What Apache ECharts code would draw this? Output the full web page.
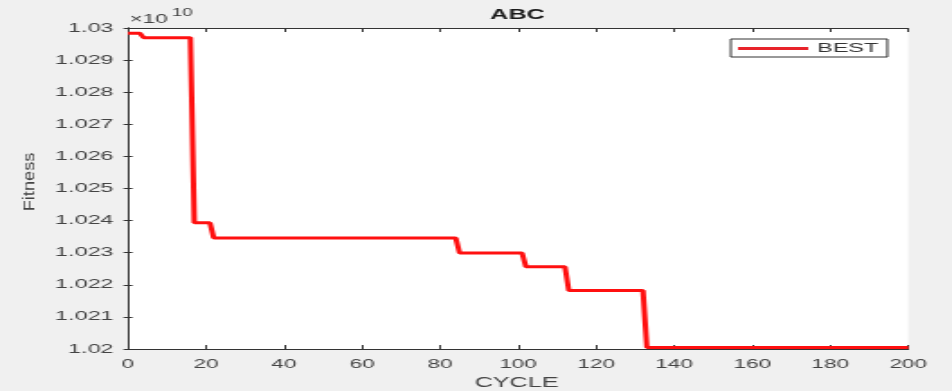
<!DOCTYPE html>
<html>
<head>
<meta charset="utf-8">
<script src="https://cdn.jsdelivr.net/npm/echarts@6/dist/echarts.min.js"></script>
<style>
  html, body { margin: 0; padding: 0; background: #f0f0f0; overflow: hidden; }
  /* the reference figure is stretched sideways, so draw narrow and scale */
  #chart { width: 529px; height: 391px; transform: scaleX(1.8); transform-origin: 0 0; }
</style>
</head>
<body>
<div id="chart"></div>
<script>
// breakpoints of the BEST curve (cycle, fitness / 1e10)
const cycles = [0, 3, 4, 16, 17, 21, 22, 84, 85, 101, 102, 112, 113, 132, 133, 200];
const best = [1.02984, 1.02984, 1.0297, 1.0297, 1.02393, 1.02393, 1.02346, 1.02346,
  1.02299, 1.02299, 1.02256, 1.02256, 1.02182, 1.02182, 1.02005, 1.02005];

const xTicks = [0, 20, 40, 60, 80, 100, 120, 140, 160, 180, 200];
const yTicks = [1.02, 1.021, 1.022, 1.023, 1.024, 1.025, 1.026, 1.027, 1.028, 1.029, 1.03];

const font = "'Liberation Sans', Arial, sans-serif";
const axisColor = "#333";
const labelColor = "#444";

const chart = echarts.init(document.getElementById("chart"), null, { renderer: "canvas" });

function axisBase(tickLen) {
  return {
    axisLine: { show: true, lineStyle: { color: axisColor, width: 1 } },
    axisTick: { show: true, inside: true, length: tickLen, lineStyle: { color: axisColor } },
    splitLine: { show: false },
  };
}

const xRange = { type: "value", min: xTicks[0], max: xTicks[xTicks.length - 1], interval: xTicks[1] - xTicks[0] };
const yRange = { type: "value", min: yTicks[0], max: yTicks[yTicks.length - 1], interval: 0.001 };

chart.setOption({
  backgroundColor: "#f0f0f0",
  animation: false,
  legend: {
    left: 406,
    top: 39,
    backgroundColor: "#fff",
    borderColor: "#333",
    borderWidth: 1,
    borderRadius: 0,
    padding: [3, 5, 2, 4],
    itemWidth: 39,
    itemHeight: 3,
    textStyle: { fontFamily: font, fontSize: 13, color: "#333" },
    data: [{ name: "BEST", icon: "rect", itemStyle: { color: "#e8232a" } }],
  },
  grid: { left: 71.1, right: 24.4, top: 28, bottom: 42, backgroundColor: "#fff", show: true, borderWidth: 0 },
  graphic: [
    {
      type: "text", x: 287.5, y: 15,
      style: { text: "ABC", font: "bold 14px " + font, fill: "#1a1a1a", align: "center", verticalAlign: "middle" },
    },
    {
      type: "text", x: 287, y: 383,
      style: { text: "CYCLE", font: "14px " + font, fill: labelColor, align: "center", verticalAlign: "middle" },
    },
    {
      type: "text", x: 16.9, y: 182, rotation: Math.PI / 2, scaleX: 1.3, scaleY: 0.66,
      style: { text: "Fitness", font: "14px " + font, fill: labelColor, align: "center", verticalAlign: "middle" },
    },
    {
      type: "text", x: 72, y: 19.5,
      style: { text: "×10", font: "12.5px " + font, fill: labelColor, align: "left", verticalAlign: "middle" },
    },
    {
      type: "text", x: 95.5, y: 13.5,
      style: { text: "10", font: "10.5px " + font, fill: labelColor, align: "left", verticalAlign: "middle" },
    },
  ],
  xAxis: [{
    ...axisBase(4),
    ...xRange,
    axisLabel: { fontFamily: font, fontSize: 12.5, color: labelColor, margin: 9 },
  }, {
    ...axisBase(4),
    ...xRange,
    position: "top",
    axisLabel: { show: false },
  }],
  yAxis: [{
    ...axisBase(2.5),
    ...yRange,
    axisLabel: {
      fontFamily: font, fontSize: 13, color: labelColor, margin: 8,
      formatter: (v) => String(parseFloat(v.toFixed(3))),
    },
  }, {
    ...axisBase(2.5),
    ...yRange,
    position: "right",
    axisLabel: { show: false },
  }],
  series: [{
    name: "BEST",
    type: "line",
    symbol: "none",
    data: cycles.map((c, i) => [c, best[i]]),
    lineStyle: { color: "#ff1010", width: 3 },
    itemStyle: { color: "#e8232a" },
    z: 3,
  }],
});
</script>
</body>
</html>
